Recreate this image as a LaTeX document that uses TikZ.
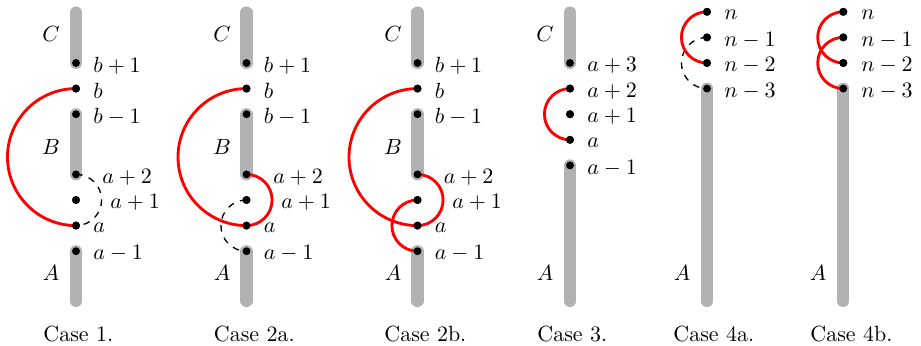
\documentclass[tikz,border=0pt]{standalone}
\begin{document}
\begin{tikzpicture}[x=0.455pt,y=-0.455pt,
  bar/.style={line width=5.5pt, black!30, line cap=round},
  dot/.style={circle, fill=black, inner sep=0pt, minimum size=3.6pt},
  redarc/.style={red, line width=1.3pt},
  dasharc/.style={black, line width=0.6pt, dash pattern=on 3pt off 3pt},
  lab/.style={anchor=west, inner sep=0pt},
  seg/.style={inner sep=0pt},
  casetxt/.style={anchor=west, inner sep=0pt}]
\useasboundingbox (0,0) rectangle (921,346);

% ---------- Case 1 ----------
\coordinate (t1) at (76,12.5);
\coordinate (e1) at (76,301);
\node[dot] (c1bp) at (76,63) {};
\node[dot] (c1b) at (76,88.6) {};
\node[dot] (c1bm) at (76,114.2) {};
\node[dot] (c1ap2) at (76,174.4) {};
\node[dot] (c1ap1) at (76,200) {};
\node[dot] (c1a) at (76,225.6) {};
\node[dot] (c1am) at (76,251.2) {};
\draw[bar] (t1) -- (c1bp.center);
\draw[bar] (c1bm.center) -- (c1ap2.center);
\draw[bar] (c1am.center) -- (e1);
\draw[redarc] (c1b.center) arc[start angle=270, end angle=90, radius=68.5];
\draw[dasharc] (c1ap2.center) arc[start angle=-90, end angle=90, radius=25.6];
\foreach \n in {c1bp,c1b,c1bm,c1ap2,c1ap1,c1a,c1am} \fill (\n) circle[radius=1.8pt];
\node[lab] (l1bp) at (93,65.5) {$b+1$};
\node[lab] (l1b) at (93,91) {$b$};
\node[lab] (l1bm) at (93,116.7) {$b-1$};
\node[lab] (l1ap2) at (102,177) {$a+2$};
\node[lab] (l1ap1) at (110,202.5) {$a+1$};
\node[lab] (l1a) at (93,228) {$a$};
\node[lab] (l1am) at (93,253.7) {$a-1$};
\node[seg] (s1C) at (51,34) {$C$};
\node[seg] (s1B) at (51,147) {$B$};
\node[seg] (s1A) at (51,273) {$A$};
\node[casetxt] (k1) at (43,333.5) {Case 1.};

% ---------- Case 2a ----------
\coordinate (t2) at (246.5,12.5);
\coordinate (e2) at (246.5,301);
\node[dot] (c2bp) at (246.5,63) {};
\node[dot] (c2b) at (246.5,88.6) {};
\node[dot] (c2bm) at (246.5,114.2) {};
\node[dot] (c2ap2) at (246.5,174.4) {};
\node[dot] (c2ap1) at (246.5,200) {};
\node[dot] (c2a) at (246.5,225.6) {};
\node[dot] (c2am) at (246.5,251.2) {};
\draw[bar] (t2) -- (c2bp.center);
\draw[bar] (c2bm.center) -- (c2ap2.center);
\draw[bar] (c2am.center) -- (e2);
\draw[dasharc] (c2ap1.center) arc[start angle=270, end angle=90, radius=25.6];
\draw[redarc] (c2b.center) arc[start angle=270, end angle=90, radius=68.5];
\draw[redarc] (c2ap2.center) arc[start angle=-90, end angle=90, radius=25.6];
\foreach \n in {c2bp,c2b,c2bm,c2ap2,c2ap1,c2a,c2am} \fill (\n) circle[radius=1.8pt];
\node[lab] (l2bp) at (263.5,65.5) {$b+1$};
\node[lab] (l2b) at (263.5,91) {$b$};
\node[lab] (l2bm) at (263.5,116.7) {$b-1$};
\node[lab] (l2ap2) at (273,177) {$a+2$};
\node[lab] (l2ap1) at (281,202.5) {$a+1$};
\node[lab] (l2a) at (263.5,228) {$a$};
\node[lab] (l2am) at (263.5,253.7) {$a-1$};
\node[seg] (s2C) at (222,34) {$C$};
\node[seg] (s2B) at (222,147) {$B$};
\node[seg] (s2A) at (222,273) {$A$};
\node[casetxt] (k2) at (213.5,333.5) {Case 2a.};

% ---------- Case 2b ----------
\coordinate (t3) at (417.5,12.5);
\coordinate (e3) at (417.5,301);
\node[dot] (c3bp) at (417.5,63) {};
\node[dot] (c3b) at (417.5,88.6) {};
\node[dot] (c3bm) at (417.5,114.2) {};
\node[dot] (c3ap2) at (417.5,174.4) {};
\node[dot] (c3ap1) at (417.5,200) {};
\node[dot] (c3a) at (417.5,225.6) {};
\node[dot] (c3am) at (417.5,251.2) {};
\draw[bar] (t3) -- (c3bp.center);
\draw[bar] (c3bm.center) -- (c3ap2.center);
\draw[bar] (c3am.center) -- (e3);
\draw[redarc] (c3ap1.center) arc[start angle=270, end angle=90, radius=25.6];
\draw[redarc] (c3b.center) arc[start angle=270, end angle=90, radius=68.5];
\draw[redarc] (c3ap2.center) arc[start angle=-90, end angle=90, radius=25.6];
\foreach \n in {c3bp,c3b,c3bm,c3ap2,c3ap1,c3a,c3am} \fill (\n) circle[radius=1.8pt];
\node[lab] (l3bp) at (434.5,65.5) {$b+1$};
\node[lab] (l3b) at (434.5,91) {$b$};
\node[lab] (l3bm) at (434.5,116.7) {$b-1$};
\node[lab] (l3ap2) at (443.5,177) {$a+2$};
\node[lab] (l3ap1) at (452,202.5) {$a+1$};
\node[lab] (l3a) at (434.5,228) {$a$};
\node[lab] (l3am) at (434.5,253.7) {$a-1$};
\node[seg] (s3C) at (393,34) {$C$};
\node[seg] (s3B) at (393,147) {$B$};
\node[seg] (s3A) at (393,273) {$A$};
\node[casetxt] (k3) at (384,333.5) {Case 2b.};

% ---------- Case 3 ----------
\coordinate (t4) at (570,12.5);
\coordinate (e4) at (570,301);
\node[dot] (c4ap3) at (570,63) {};
\node[dot] (c4ap2) at (570,88.6) {};
\node[dot] (c4ap1) at (570,114.2) {};
\node[dot] (c4a) at (570,139.8) {};
\node[dot] (c4am) at (570,165.4) {};
\draw[bar] (t4) -- (c4ap3.center);
\draw[bar] (c4am.center) -- (e4);
\draw[redarc] (c4ap2.center) arc[start angle=270, end angle=90, radius=25.6];
\foreach \n in {c4ap3,c4ap2,c4ap1,c4a,c4am} \fill (\n) circle[radius=1.8pt];
\node[lab] (l4ap3) at (587,65.5) {$a+3$};
\node[lab] (l4ap2) at (587,91) {$a+2$};
\node[lab] (l4ap1) at (587,116.7) {$a+1$};
\node[lab] (l4a) at (587,142.3) {$a$};
\node[lab] (l4am) at (587,167.9) {$a-1$};
\node[seg] (s4C) at (545,34) {$C$};
\node[seg] (s4A) at (545,273) {$A$};
\node[casetxt] (k4) at (537,333.5) {Case 3.};

% ---------- Case 4a ----------
\coordinate (e5) at (707,301);
\node[dot] (c5n) at (707,11.8) {};
\node[dot] (c5n1) at (707,37.4) {};
\node[dot] (c5n2) at (707,63) {};
\node[dot] (c5n3) at (707,88.6) {};
\draw[bar] (c5n3.center) -- (e5);
\draw[dasharc] (c5n1.center) arc[start angle=270, end angle=90, radius=25.6];
\draw[redarc] (c5n.center) arc[start angle=270, end angle=90, radius=25.6];
\foreach \n in {c5n,c5n1,c5n2,c5n3} \fill (\n) circle[radius=1.8pt];
\node[lab] (l5n) at (724,14.3) {$n$};
\node[lab] (l5n1) at (724,39.9) {$n-1$};
\node[lab] (l5n2) at (724,65.5) {$n-2$};
\node[lab] (l5n3) at (724,91) {$n-3$};
\node[seg] (s5A) at (682,273) {$A$};
\node[casetxt] (k5) at (673,333.5) {Case 4a.};

% ---------- Case 4b ----------
\coordinate (e6) at (843.3,301);
\node[dot] (c6n) at (843.3,11.8) {};
\node[dot] (c6n1) at (843.3,37.4) {};
\node[dot] (c6n2) at (843.3,63) {};
\node[dot] (c6n3) at (843.3,88.6) {};
\draw[bar] (c6n3.center) -- (e6);
\draw[redarc] (c6n1.center) arc[start angle=270, end angle=90, radius=25.6];
\draw[redarc] (c6n.center) arc[start angle=270, end angle=90, radius=25.6];
\foreach \n in {c6n,c6n1,c6n2,c6n3} \fill (\n) circle[radius=1.8pt];
\node[lab] (l6n) at (861,14.3) {$n$};
\node[lab] (l6n1) at (861,39.9) {$n-1$};
\node[lab] (l6n2) at (861,65.5) {$n-2$};
\node[lab] (l6n3) at (861,91) {$n-3$};
\node[seg] (s6A) at (818,273) {$A$};
\node[casetxt] (k6) at (810,333.5) {Case 4b.};
\end{tikzpicture}
\end{document}
